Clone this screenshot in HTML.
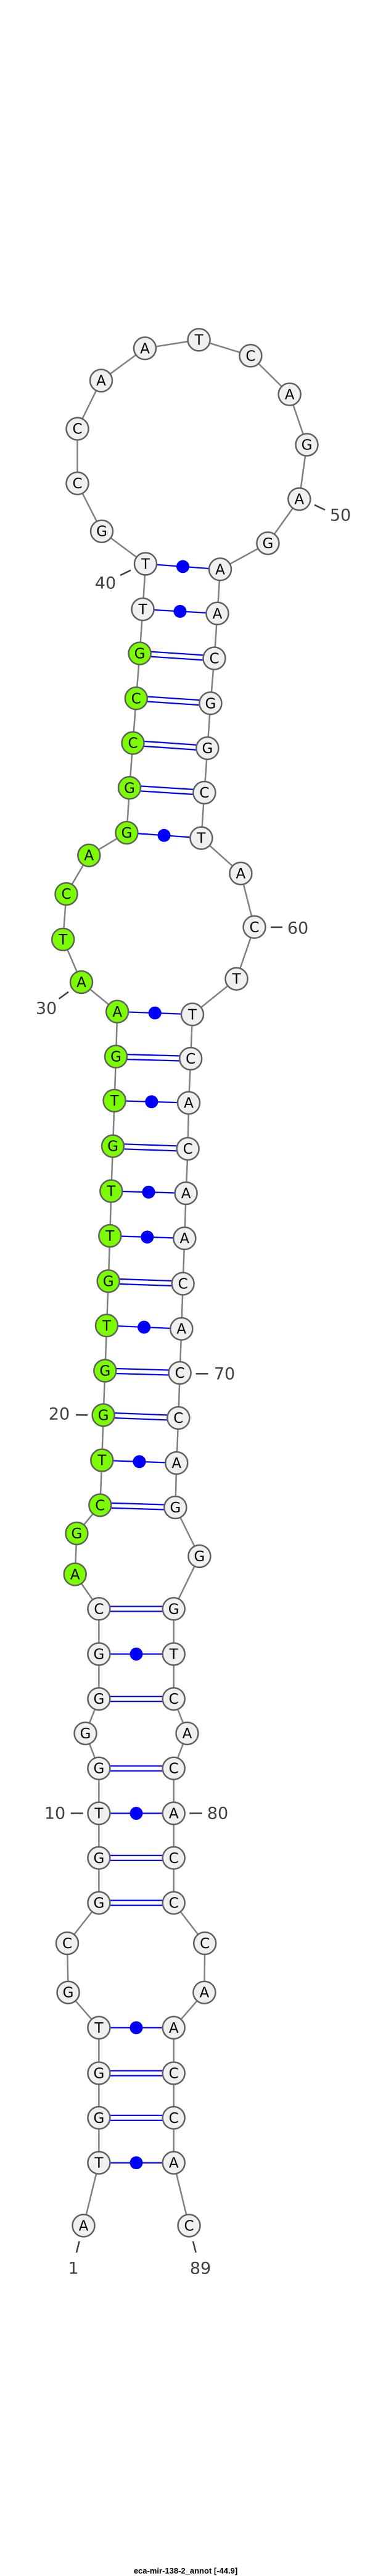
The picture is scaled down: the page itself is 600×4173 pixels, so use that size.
<!DOCTYPE html>
<html><head><meta charset="utf-8"><style>html,body{margin:0;padding:0;background:#fff}svg{display:block}</style></head><body>
<svg width="600" height="4173" viewBox="0 0 600 4173" xmlns="http://www.w3.org/2000/svg">
<g stroke="#808080" stroke-width="2.5" fill="none">
<polyline points="135.5,3605.4 160.4,3503.6 160.4,3430.8 160.4,3358.5 160.4,3284.8 110.6,3227.7 109,3148 160.4,3082.6 160.4,3009.8 160.4,2937.5 160.4,2864.7 138.5,2808 160.4,2752.2 160.4,2679.5 160.4,2606.3 121.7,2550.4 124.4,2484 162.3,2438.4 165.3,2365.6 167.6,2292.4 170.3,2220.5 173,2147.3 175.7,2075.4 178.3,2002 180.3,1929.5 183,1856.7 185.6,1783 188,1711.6 190.2,1638.8 132,1591 102.2,1521.9 107.5,1448.2 144.3,1385.7 205.5,1349 210,1276.3 215.5,1203.6 220.8,1131.3 226.6,1058.5 231.5,987 236,913.4 165,860.7 125.5,783 125.5,694.6 164,616.5 235,564.3 322.6,550.4 406.4,576.3 469.6,638.8 497.5,720.5 485.3,808.5 434.4,880 357,922.3 352.5,993.8 347.5,1066.5 341.4,1139.3 336.4,1212 331.4,1284 326.4,1357.6 390.4,1415 412.5,1501.8 383.5,1585.7 312,1643.3 309.2,1715 306,1786.6 304.6,1861 301.6,1933 299.3,2006 296.6,2079.5 294.3,2152.7 291.6,2224 289.3,2297 286.3,2370 284.4,2442 323.4,2521 281.7,2606.3 281.7,2679.5 281.7,2752.2 303.5,2808 281.7,2864.7 281.7,2937.5 281.7,3009.8 281.7,3082.6 332.2,3148 331.4,3227.7 281.7,3284.8 281.7,3358.5 281.7,3430.8 281.7,3503.6 306.5,3605.4"/>
</g>
<g stroke="#0000ff" stroke-width="2.2" fill="none">
<!-- single (dot) pairs -->
<line x1="160.4" y1="3503.6" x2="281.7" y2="3503.6"/>
<line x1="160.4" y1="3284.8" x2="281.7" y2="3284.8"/>
<line x1="160.4" y1="2937.5" x2="281.7" y2="2937.5"/>
<line x1="160.4" y1="2679.5" x2="281.7" y2="2679.5"/>
<line x1="165.3" y1="2365.6" x2="286.3" y2="2370"/>
<line x1="173" y1="2147.3" x2="294.3" y2="2152.7"/>
<line x1="178.3" y1="2002" x2="299.3" y2="2006"/>
<line x1="180.3" y1="1929.5" x2="301.6" y2="1933"/>
<line x1="185.6" y1="1783" x2="306" y2="1786.6"/>
<line x1="190.2" y1="1638.8" x2="312" y2="1643.3"/>
<line x1="205.5" y1="1349" x2="326.4" y2="1357.6"/>
<line x1="231.5" y1="987" x2="352.5" y2="993.8"/>
<line x1="236" y1="913.4" x2="357" y2="922.3"/>
<!-- double pairs -->
<line x1="160.4" y1="3426.8" x2="281.7" y2="3426.8"/><line x1="160.4" y1="3434.8" x2="281.7" y2="3434.8"/>
<line x1="160.4" y1="3354.5" x2="281.7" y2="3354.5"/><line x1="160.4" y1="3362.5" x2="281.7" y2="3362.5"/>
<line x1="160.4" y1="3078.6" x2="281.7" y2="3078.6"/><line x1="160.4" y1="3086.6" x2="281.7" y2="3086.6"/>
<line x1="160.4" y1="3005.8" x2="281.7" y2="3005.8"/><line x1="160.4" y1="3013.8" x2="281.7" y2="3013.8"/>
<line x1="160.4" y1="2860.7" x2="281.7" y2="2860.7"/><line x1="160.4" y1="2868.7" x2="281.7" y2="2868.7"/>
<line x1="160.4" y1="2748.2" x2="281.7" y2="2748.2"/><line x1="160.4" y1="2756.2" x2="281.7" y2="2756.2"/>
<line x1="160.4" y1="2602.3" x2="281.7" y2="2602.3"/><line x1="160.4" y1="2610.3" x2="281.7" y2="2610.3"/>
<line x1="162.3" y1="2434.4" x2="284.4" y2="2438"/><line x1="162.3" y1="2442.4" x2="284.4" y2="2446"/>
<line x1="167.6" y1="2288.4" x2="289.3" y2="2293"/><line x1="167.6" y1="2296.4" x2="289.3" y2="2301"/>
<line x1="170.3" y1="2216.5" x2="291.6" y2="2220"/><line x1="170.3" y1="2224.5" x2="291.6" y2="2228"/>
<line x1="175.7" y1="2071.4" x2="296.6" y2="2075.5"/><line x1="175.7" y1="2079.4" x2="296.6" y2="2083.5"/>
<line x1="183" y1="1852.7" x2="304.6" y2="1857"/><line x1="183" y1="1860.7" x2="304.6" y2="1865"/>
<line x1="188" y1="1707.6" x2="309.2" y2="1711"/><line x1="188" y1="1715.6" x2="309.2" y2="1719"/>
<line x1="210" y1="1272.3" x2="331.4" y2="1280"/><line x1="210" y1="1280.3" x2="331.4" y2="1288"/>
<line x1="215.5" y1="1199.6" x2="336.4" y2="1208"/><line x1="215.5" y1="1207.6" x2="336.4" y2="1216"/>
<line x1="220.8" y1="1127.3" x2="341.4" y2="1135.3"/><line x1="220.8" y1="1135.3" x2="341.4" y2="1143.3"/>
<line x1="226.6" y1="1054.5" x2="347.5" y2="1062.5"/><line x1="226.6" y1="1062.5" x2="347.5" y2="1070.5"/>
</g>
<g fill="#0000ff">
<circle cx="221" cy="3503.6" r="10.5"/>
<circle cx="221" cy="3284.8" r="10.5"/>
<circle cx="221" cy="2937.5" r="10.5"/>
<circle cx="221" cy="2679.5" r="10.5"/>
<circle cx="226" cy="2367.8" r="10.5"/>
<circle cx="233.6" cy="2150" r="10.5"/>
<circle cx="238.8" cy="2004" r="10.5"/>
<circle cx="241" cy="1931.2" r="10.5"/>
<circle cx="245.8" cy="1784.8" r="10.5"/>
<circle cx="251.2" cy="1641" r="10.5"/>
<circle cx="266" cy="1353.3" r="10.5"/>
<circle cx="292" cy="990.4" r="10.5"/>
<circle cx="296.5" cy="917.8" r="10.5"/>
</g>
<g stroke="#606060" stroke-width="2.5" fill="#f0f0f0">
<circle cx="135.5" cy="3605.4" r="18"/><circle cx="160.4" cy="3503.6" r="18"/><circle cx="160.4" cy="3430.8" r="18"/><circle cx="160.4" cy="3358.5" r="18"/><circle cx="160.4" cy="3284.8" r="18"/><circle cx="110.6" cy="3227.7" r="18"/><circle cx="109" cy="3148" r="18"/><circle cx="160.4" cy="3082.6" r="18"/><circle cx="160.4" cy="3009.8" r="18"/><circle cx="160.4" cy="2937.5" r="18"/><circle cx="160.4" cy="2864.7" r="18"/><circle cx="138.5" cy="2808" r="18"/><circle cx="160.4" cy="2752.2" r="18"/><circle cx="160.4" cy="2679.5" r="18"/><circle cx="160.4" cy="2606.3" r="18"/>
<circle cx="231.5" cy="987" r="18"/><circle cx="236" cy="913.4" r="18"/><circle cx="165" cy="860.7" r="18"/><circle cx="125.5" cy="783" r="18"/><circle cx="125.5" cy="694.6" r="18"/><circle cx="164" cy="616.5" r="18"/><circle cx="235" cy="564.3" r="18"/><circle cx="322.6" cy="550.4" r="18"/><circle cx="406.4" cy="576.3" r="18"/><circle cx="469.6" cy="638.8" r="18"/><circle cx="497.5" cy="720.5" r="18"/><circle cx="485.3" cy="808.5" r="18"/><circle cx="434.4" cy="880" r="18"/><circle cx="357" cy="922.3" r="18"/><circle cx="352.5" cy="993.8" r="18"/><circle cx="347.5" cy="1066.5" r="18"/><circle cx="341.4" cy="1139.3" r="18"/><circle cx="336.4" cy="1212" r="18"/><circle cx="331.4" cy="1284" r="18"/><circle cx="326.4" cy="1357.6" r="18"/><circle cx="390.4" cy="1415" r="18"/><circle cx="412.5" cy="1501.8" r="18"/><circle cx="383.5" cy="1585.7" r="18"/><circle cx="312" cy="1643.3" r="18"/><circle cx="309.2" cy="1715" r="18"/><circle cx="306" cy="1786.6" r="18"/><circle cx="304.6" cy="1861" r="18"/><circle cx="301.6" cy="1933" r="18"/><circle cx="299.3" cy="2006" r="18"/><circle cx="296.6" cy="2079.5" r="18"/><circle cx="294.3" cy="2152.7" r="18"/><circle cx="291.6" cy="2224" r="18"/><circle cx="289.3" cy="2297" r="18"/><circle cx="286.3" cy="2370" r="18"/><circle cx="284.4" cy="2442" r="18"/><circle cx="323.4" cy="2521" r="18"/><circle cx="281.7" cy="2606.3" r="18"/><circle cx="281.7" cy="2679.5" r="18"/><circle cx="281.7" cy="2752.2" r="18"/><circle cx="303.5" cy="2808" r="18"/><circle cx="281.7" cy="2864.7" r="18"/><circle cx="281.7" cy="2937.5" r="18"/><circle cx="281.7" cy="3009.8" r="18"/><circle cx="281.7" cy="3082.6" r="18"/><circle cx="332.2" cy="3148" r="18"/><circle cx="331.4" cy="3227.7" r="18"/><circle cx="281.7" cy="3284.8" r="18"/><circle cx="281.7" cy="3358.5" r="18"/><circle cx="281.7" cy="3430.8" r="18"/><circle cx="281.7" cy="3503.6" r="18"/><circle cx="306.5" cy="3605.4" r="18"/>
</g>
<g stroke="#606060" stroke-width="2.5" fill="#7cfc00">
<circle cx="121.7" cy="2550.4" r="18"/><circle cx="124.4" cy="2484" r="18"/><circle cx="162.3" cy="2438.4" r="18"/><circle cx="165.3" cy="2365.6" r="18"/><circle cx="167.6" cy="2292.4" r="18"/><circle cx="170.3" cy="2220.5" r="18"/><circle cx="173" cy="2147.3" r="18"/><circle cx="175.7" cy="2075.4" r="18"/><circle cx="178.3" cy="2002" r="18"/><circle cx="180.3" cy="1929.5" r="18"/><circle cx="183" cy="1856.7" r="18"/><circle cx="185.6" cy="1783" r="18"/><circle cx="188" cy="1711.6" r="18"/><circle cx="190.2" cy="1638.8" r="18"/><circle cx="132" cy="1591" r="18"/><circle cx="102.2" cy="1521.9" r="18"/><circle cx="107.5" cy="1448.2" r="18"/><circle cx="144.3" cy="1385.7" r="18"/><circle cx="205.5" cy="1349" r="18"/><circle cx="210" cy="1276.3" r="18"/><circle cx="215.5" cy="1203.6" r="18"/><circle cx="220.8" cy="1131.3" r="18"/><circle cx="226.6" cy="1058.5" r="18"/>
</g>
<g font-family="'DejaVu Sans', 'Liberation Sans', sans-serif" font-size="23" fill="#000" text-anchor="middle" dominant-baseline="central">
<text x="135.5" y="3606.4">A</text><text x="160.4" y="3504.6">T</text><text x="160.4" y="3431.8">G</text><text x="160.4" y="3359.5">G</text><text x="160.4" y="3285.8">T</text><text x="110.6" y="3228.7">G</text><text x="109" y="3149">C</text><text x="160.4" y="3083.6">G</text><text x="160.4" y="3010.8">G</text><text x="160.4" y="2938.5">T</text><text x="160.4" y="2865.7">G</text><text x="138.5" y="2809">G</text><text x="160.4" y="2753.2">G</text><text x="160.4" y="2680.5">G</text><text x="160.4" y="2607.3">C</text>
<text x="121.7" y="2551.4">A</text><text x="124.4" y="2485">G</text><text x="162.3" y="2439.4">C</text><text x="165.3" y="2366.6">T</text><text x="167.6" y="2293.4">G</text><text x="170.3" y="2221.5">G</text><text x="173" y="2148.3">T</text><text x="175.7" y="2076.4">G</text><text x="178.3" y="2003">T</text><text x="180.3" y="1930.5">T</text><text x="183" y="1857.7">G</text><text x="185.6" y="1784">T</text><text x="188" y="1712.6">G</text><text x="190.2" y="1639.8">A</text><text x="132" y="1592">A</text><text x="102.2" y="1522.9">T</text><text x="107.5" y="1449.2">C</text><text x="144.3" y="1386.7">A</text><text x="205.5" y="1350">G</text><text x="210" y="1277.3">G</text><text x="215.5" y="1204.6">C</text><text x="220.8" y="1132.3">C</text><text x="226.6" y="1059.5">G</text>
<text x="231.5" y="988">T</text><text x="236" y="914.4">T</text><text x="165" y="861.7">G</text><text x="125.5" y="784">C</text><text x="125.5" y="695.6">C</text><text x="164" y="617.5">A</text><text x="235" y="565.3">A</text><text x="322.6" y="551.4">T</text><text x="406.4" y="577.3">C</text><text x="469.6" y="639.8">A</text><text x="497.5" y="721.5">G</text><text x="485.3" y="809.5">A</text><text x="434.4" y="881">G</text><text x="357" y="923.3">A</text><text x="352.5" y="994.8">A</text><text x="347.5" y="1067.5">C</text><text x="341.4" y="1140.3">G</text><text x="336.4" y="1213">G</text><text x="331.4" y="1285">C</text><text x="326.4" y="1358.6">T</text><text x="390.4" y="1416">A</text><text x="412.5" y="1502.8">C</text><text x="383.5" y="1586.7">T</text><text x="312" y="1644.3">T</text><text x="309.2" y="1716">C</text><text x="306" y="1787.6">A</text><text x="304.6" y="1862">C</text><text x="301.6" y="1934">A</text><text x="299.3" y="2007">A</text><text x="296.6" y="2080.5">C</text><text x="294.3" y="2153.7">A</text><text x="291.6" y="2225">C</text><text x="289.3" y="2298">C</text><text x="286.3" y="2371">A</text><text x="284.4" y="2443">G</text><text x="323.4" y="2522">G</text><text x="281.7" y="2607.3">G</text><text x="281.7" y="2680.5">T</text><text x="281.7" y="2753.2">C</text><text x="303.5" y="2809">A</text><text x="281.7" y="2865.7">C</text><text x="281.7" y="2938.5">A</text><text x="281.7" y="3010.8">C</text><text x="281.7" y="3083.6">C</text><text x="332.2" y="3149">C</text><text x="331.4" y="3228.7">A</text><text x="281.7" y="3285.8">A</text><text x="281.7" y="3359.5">C</text><text x="281.7" y="3431.8">C</text><text x="281.7" y="3504.6">A</text><text x="306.5" y="3606.4">C</text>
</g>
<g stroke="#404040" stroke-width="2.5">
<line x1="195" y1="932" x2="212" y2="923.7"/>
<line x1="510" y1="818" x2="527" y2="826"/>
<line x1="95.7" y1="1618" x2="111" y2="1606.7"/>
<line x1="439" y1="1502" x2="458" y2="1502"/>
<line x1="317.6" y1="2225.4" x2="337.5" y2="2225.4"/>
<line x1="123" y1="2292" x2="142" y2="2292.4"/>
<line x1="114.8" y1="2937.5" x2="134.7" y2="2937.5"/>
<line x1="307.3" y1="2937.5" x2="328" y2="2937.5"/>
<line x1="128.6" y1="3630.8" x2="124" y2="3649"/>
<line x1="313" y1="3630.8" x2="317.6" y2="3649"/>
</g>
<g font-family="'DejaVu Sans', 'Liberation Sans', sans-serif" font-size="27" fill="#404040" text-anchor="middle" dominant-baseline="central">
<text x="171" y="945">40</text>
<text x="552" y="835">50</text>
<text x="75" y="1634">30</text>
<text x="483" y="1504">60</text>
<text x="364" y="2226">70</text>
<text x="96" y="2291">20</text>
<text x="89" y="2938">10</text>
<text x="353" y="2938">80</text>
<text x="119" y="3675">1</text>
<text x="325" y="3675">89</text>
</g>
<text x="301" y="4169" font-family="'Liberation Sans', sans-serif" font-size="13" font-weight="bold" fill="#000" text-anchor="middle">eca-mir-138-2_annot [-44.9]</text>
</svg>
</body></html>
